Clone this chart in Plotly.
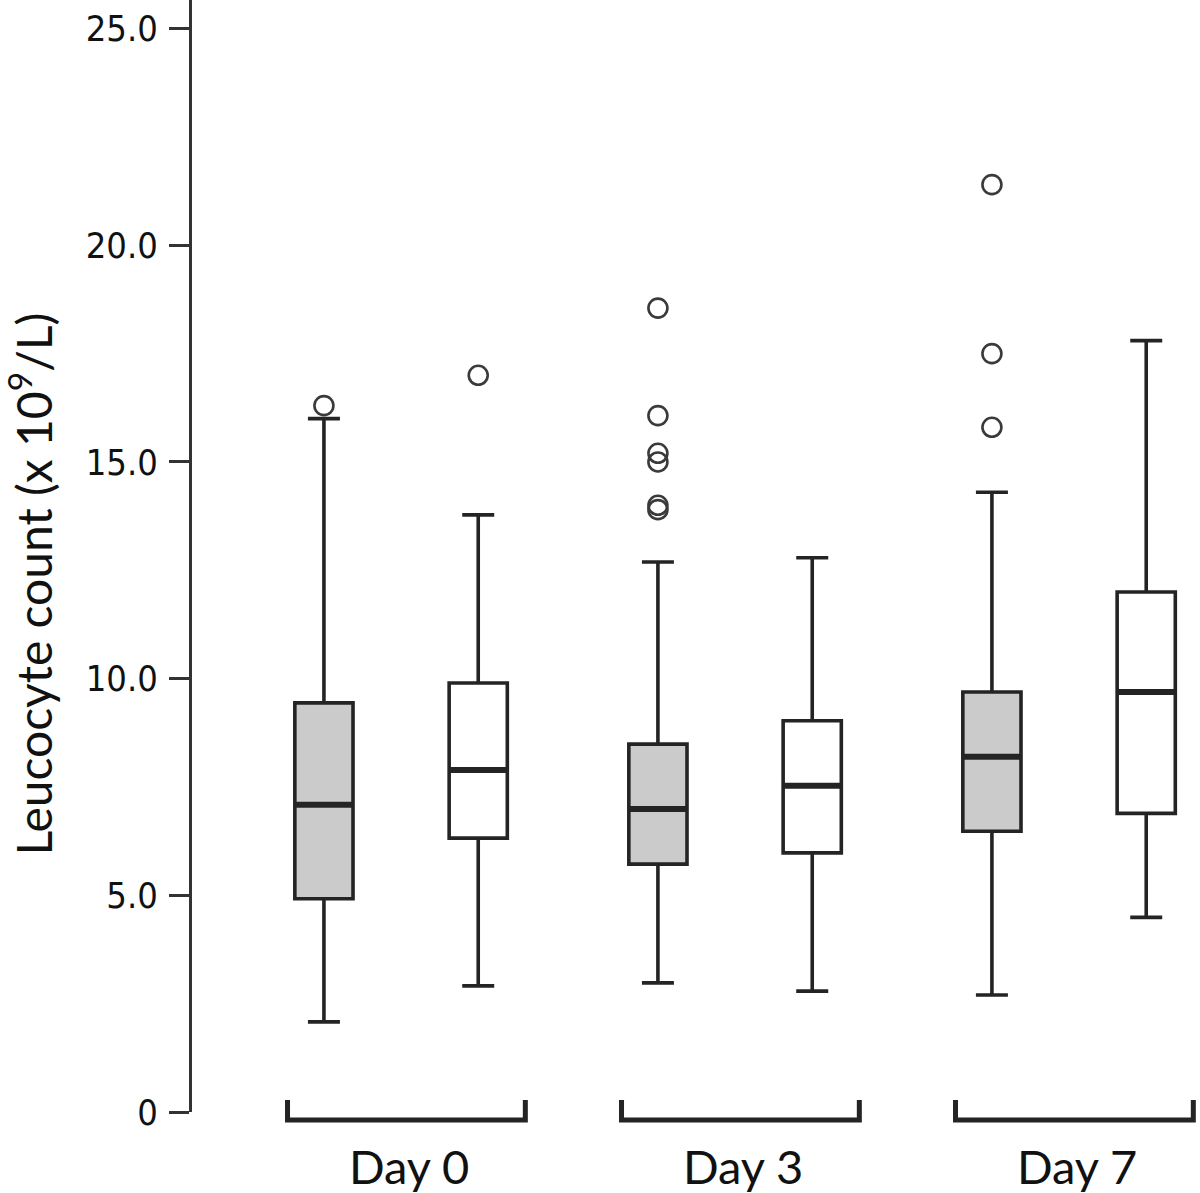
import plotly.graph_objects as go

# ---- data ----
days = ["Day 0", "Day 3", "Day 7"]

grey_lower = [2.08, 2.98, 2.70]
grey_q1 = [4.92, 5.72, 6.48]
grey_median = [7.09, 6.99, 8.20]
grey_q3 = [9.44, 8.49, 9.69]
grey_upper = [16.0, 12.69, 14.3]

white_lower = [2.91, 2.79, 4.49]
white_q1 = [6.32, 5.98, 6.89]
white_median = [7.89, 7.53, 9.69]
white_q3 = [9.90, 9.03, 12.0]
white_upper = [13.78, 12.79, 17.8]

grey_outlier_day = ["Day 0", "Day 3", "Day 3", "Day 3", "Day 3", "Day 3", "Day 3",
                    "Day 7", "Day 7", "Day 7"]
grey_outlier_val = [16.3, 18.55, 16.07, 15.2, 15.0, 14.0, 13.9, 21.4, 17.5, 15.8]
white_outlier_day = ["Day 0"]
white_outlier_val = [17.0]

ytick_vals = [0, 5, 10, 15, 20, 25]
ytick_text = ["0", "5.0", "10.0", "15.0", "20.0", "25.0"]
y_title = "Leucocyte count (x 10<sup>9</sup>/L)"

# ---- style ----
INK = "#242424"
GREY = "#cbcbcb"
TEXT_FONT = "Lato, Noto Sans, sans-serif"
TICK_FONT = "DejaVu Sans Condensed, DejaVu Sans, sans-serif"
X_RANGE = [-0.626, 2.392]
Y_RANGE = [0, 25.66]
W, H = 1200, 1193
ML, MR, MT, MB = 192, 0, 0, 81

fig = go.Figure()

box_common = dict(
    line=dict(color=INK, width=3.6),
    whiskerwidth=0.55,
    boxpoints=False,
    alignmentgroup="a",
    hoverinfo="y",
)
fig.add_trace(go.Box(
    x=days, q1=grey_q1, median=grey_median, q3=grey_q3,
    lowerfence=grey_lower, upperfence=grey_upper,
    name="grey", offsetgroup="grey", fillcolor=GREY, **box_common))
fig.add_trace(go.Box(
    x=days, q1=white_q1, median=white_median, q3=white_q3,
    lowerfence=white_lower, upperfence=white_upper,
    name="white", offsetgroup="white", fillcolor="white", **box_common))

# thicker median lines
for med, grp in [(grey_median, "grey"), (white_median, "white")]:
    fig.add_trace(go.Scatter(
        x=days, y=med, mode="markers", offsetgroup=grp, alignmentgroup="a",
        marker=dict(symbol="line-ew", size=41, line=dict(width=6, color=INK)),
        hoverinfo="skip"))

# outliers
for xs, ys, grp in [(grey_outlier_day, grey_outlier_val, "grey"),
                    (white_outlier_day, white_outlier_val, "white")]:
    fig.add_trace(go.Scatter(
        x=xs, y=ys, mode="markers", offsetgroup=grp, alignmentgroup="a",
        marker=dict(symbol="circle-open", size=19, color="#3a3a3a",
                    line=dict(width=2.6))))

# brackets under each day group
pw = W - ML - MR
ph = H - MT - MB
def px(v):
    return (v - X_RANGE[0]) / (X_RANGE[1] - X_RANGE[0])
y_top = 12 / ph
y_bot = -8 / ph
for i, _ in enumerate(days):
    x0, x1 = px(i - 0.34), px(i + 0.372)
    fig.add_shape(type="path", xref="paper", yref="paper",
                  path=f"M {x0},{y_top} L {x0},{y_bot} L {x1},{y_bot} L {x1},{y_top}",
                  line=dict(color=INK, width=5))

fig.add_annotation(text=y_title, textangle=-90, xref="paper", yref="paper",
                   x=(-4 - ML) / pw, y=(ph - (584 - MT)) / ph,
                   xanchor="left", yanchor="middle", showarrow=False,
                   font=dict(family=TEXT_FONT, size=48, color="#111111"))

fig.update_layout(
    width=W, height=H,
    margin=dict(l=ML, r=MR, t=MT, b=MB, pad=0, autoexpand=False),
    paper_bgcolor="white", plot_bgcolor="white",
    showlegend=False,
    boxmode="group", boxgap=0.076, boxgroupgap=0.623,
    scattermode="group", scattergap=0.076,
    xaxis=dict(type="category", range=X_RANGE, showgrid=False, zeroline=False,
               showline=False, ticks="outside", ticklen=15, automargin=False,
               tickcolor="rgba(0,0,0,0)", ticklabelshift=8,
               tickfont=dict(family=TEXT_FONT, size=47, color="#111111")),
    yaxis=dict(range=Y_RANGE, showgrid=False, zeroline=False, showline=True,
               automargin=False,
               linecolor="#333333", linewidth=3, ticks="outside", ticklen=20,
               tickwidth=3, tickcolor="#333333",
               tickvals=ytick_vals, ticktext=ytick_text,
               ticklabelstandoff=4,
               tickfont=dict(family=TICK_FONT, size=36, color="#111111")),
)

fig.write_html("out.html",
               config={"displayModeBar": False},
               post_script="document.body.style.margin='0';document.body.style.overflow='hidden';")
